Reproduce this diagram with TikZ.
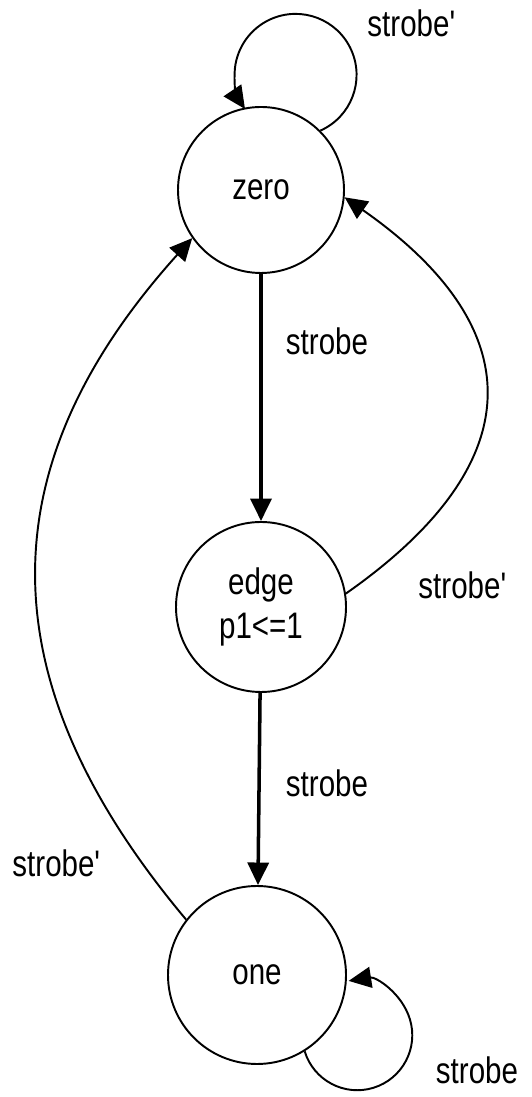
\documentclass[tikz,border=0pt]{standalone}
\usepackage{fontspec}
\setmainfont{Liberation Sans}[FakeStretch=0.8]
\usetikzlibrary{arrows.meta}

\begin{document}
\begin{tikzpicture}[>={Triangle[length=0.45cm,width=0.42cm]},
  font=\fontsize{21}{25}\selectfont,
  state/.style={circle,draw,line width=1.1pt,minimum size=3.32cm,inner sep=0pt,align=center},
  trans/.style={->,line width=1.1pt},
  lbl/.style={inner sep=0pt}]
  \useasboundingbox (0,0) rectangle (10.62,21.94);
  % states
  \node[state] (zero) at (5.22,18.14) {zero};
  \node[state,minimum size=3.4cm] (edge) at (5.22,9.80) {edge\\p1<=1};
  \node[state,minimum size=3.56cm] (one) at (5.14,2.44) {one};
  % straight transitions
  \draw[trans,line width=2pt] (zero) -- (edge);
  \draw[trans,line width=2pt] (edge) -- (one);
  % curved transitions back to zero
  \draw[trans] (edge.9) to[out=35,in=-35,looseness=1.47] (zero.-5);
  \draw[trans] (one.142) to[out=130,in=228,looseness=1.16] (zero.215);
  % self loops
  \draw[trans] (zero.45) arc[start angle=-66,end angle=214,radius=1.22];
  \draw[trans] (one.-58) arc[start angle=197,end angle=459,radius=1.1];
  % labels
  \node[lbl] (lzero) at (8.24,21.48) {strobe\textquotesingle};
  \node[lbl] (lze) at (6.54,15.12) {strobe};
  \node[lbl] (led) at (9.26,10.24) {strobe\textquotesingle};
  \node[lbl] (leo) at (6.54,6.28) {strobe};
  \node[lbl] (lon) at (1.14,4.68) {strobe\textquotesingle};
  \node[lbl] (lone) at (9.54,0.54) {strobe};
\end{tikzpicture}
\end{document}
